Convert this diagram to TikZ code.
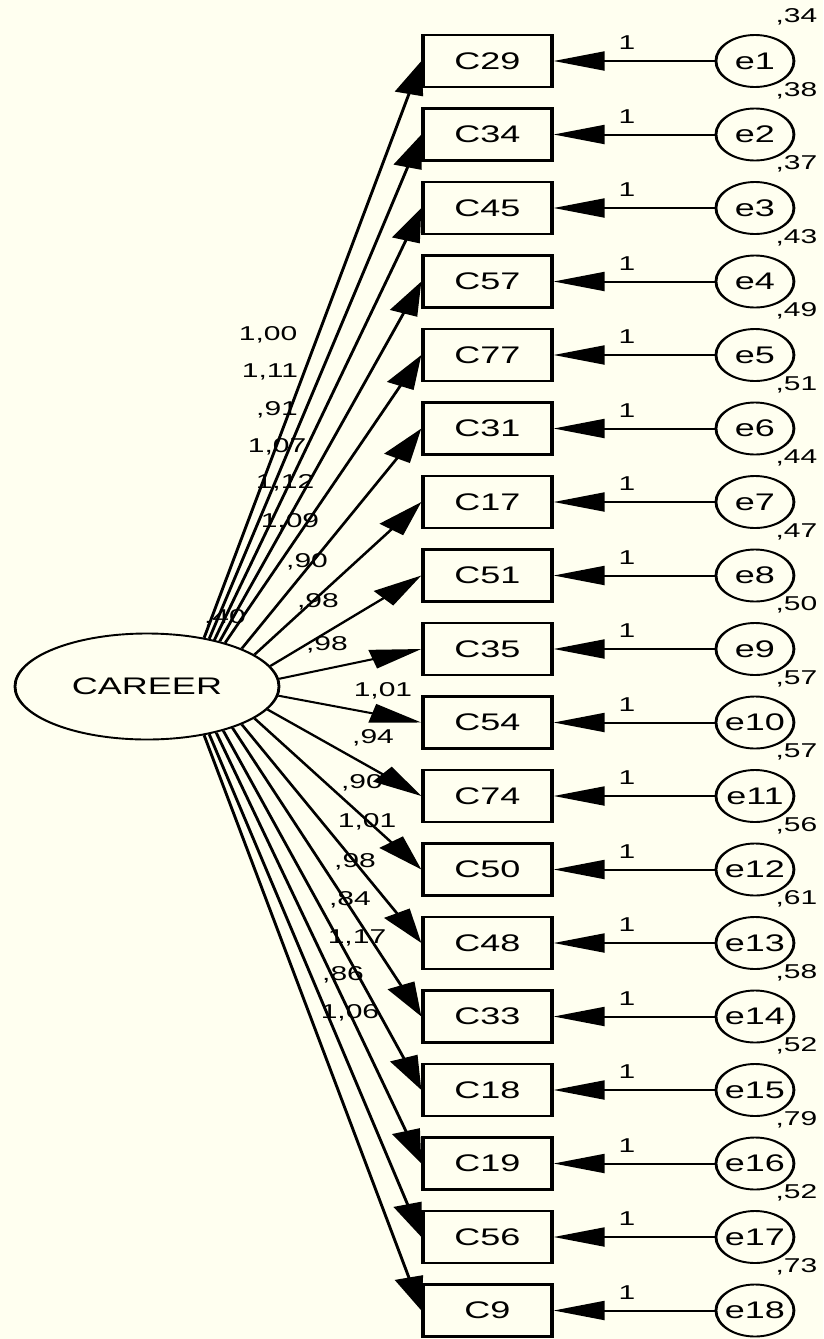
\documentclass[tikz,border=0pt]{standalone}
\usepackage{fontspec}
\setmainfont{Liberation Sans}
\usetikzlibrary{arrows.meta,shapes.geometric}
\definecolor{paper}{RGB}{255,255,240}
\begin{document}
\begin{tikzpicture}[x=1pt,y=-1pt,
  obs/.style={draw, line width=2.2pt, fill=paper, minimum width=86pt,
    minimum height=52pt, inner sep=0pt, font=\fontsize{24}{24}\selectfont},
  err/.style={draw, circle, line width=1.9pt, fill=paper, minimum size=52pt,
    inner sep=0pt, font=\fontsize{24}{24}\selectfont},
  lat/.style={draw, ellipse, line width=1.9pt, fill=paper, minimum width=176pt,
    minimum height=106pt, inner sep=0pt, font=\fontsize{24}{24}\selectfont},
  load/.style={line width=2pt, -{Triangle[length=34pt,width=19pt]}},
  est/.style={font=\fontsize{20}{20}\selectfont, inner sep=0pt}]
\fill[paper] (0,0) rectangle (823,1339);
\useasboundingbox (0,0) rectangle (823,1339);
% the path diagram is laid out in narrow units and widened by 1.5
\begin{scope}[transform canvas={xscale=1.5}]
  \node[lat] (career) at (98,686.5) {CAREER};
  \node[est] (careervar) at (150,618) {,40};
  \foreach \i/\obsname/\lab/\lx/\ly/\var/\ang in {
     1/C29/{1,00}/178.7/335/{,34}/52.7,
     2/C34/{1,11}/180/372/{,38}/49.7,
     3/C45/{,91}/184.7/410/{,37}/46.2,
     4/C57/{1,07}/184.7/447/{,43}/43.4,
     5/C77/{1,12}/190/483/{,49}/40.5,
     6/C31/{1,09}/193.3/522/{,51}/31.2,
     7/C17/{,90}/204.7/562/{,44}/24.1,
     8/C51/{,98}/212/602/{,47}/14.7,
     9/C35/{,98}/218/645/{,50}/5,
     10/C54/{1,01}/255.3/691/{,57}/-6,
     11/C74/{,94}/248.7/738/{,57}/-16.8,
     12/C50/{,90}/241.3/783/{,56}/-24.6,
     13/C48/{1,01}/244.7/822/{,61}/-31.2,
     14/C33/{,98}/236.7/862/{,58}/-36.6,
     15/C18/{,84}/233.3/900/{,52}/-41.1,
     16/C19/{1,17}/238/938/{,79}/-45.1,
     17/C56/{,86}/228.7/975/{,52}/-49.1,
     18/C9/{1,06}/233.3/1013/{,73}/-52.7} {
    \pgfmathsetmacro{\yc}{61+73.5*(\i-1)}
    \node[obs] (c\i) at (325,\yc) {\obsname};
    \node[err] (e\i) at (503.3,\yc) {e\i};
    \node[est] (v\i) at (531,\yc-44) {\var};
    \node[est] (w\i) at (418,\yc-18) {1};
    \node[est] (l\i) at (\lx,\ly) {\lab};
    \draw[load] (e\i) -- (c\i);
    \draw[load] (career.\ang) -- (c\i.west);
  }
\end{scope}
\end{tikzpicture}
\end{document}
